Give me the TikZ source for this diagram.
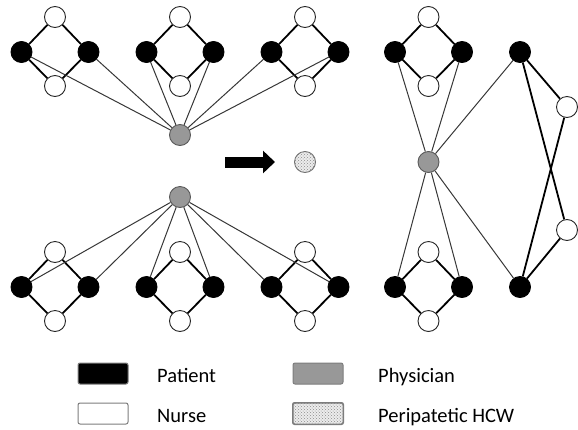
\documentclass[tikz,border=0pt]{standalone}
\usepackage{fontspec}
\setmainfont{Carlito}
\usetikzlibrary{arrows.meta,patterns,backgrounds}
\definecolor{physgray}{RGB}{152,152,152}
\definecolor{edgegray}{RGB}{55,55,55}
\definecolor{boxgray}{RGB}{125,125,125}
\begin{document}
\begin{tikzpicture}[x=1pt,y=-1pt,
  person/.style={circle,minimum size=21pt,inner sep=0pt,line width=0.9pt},
  patient/.style={person,draw=black,fill=black},
  nurse/.style={person,draw=black!85,fill=white},
  physician/.style={person,draw=black!65,fill=physgray},
  peripatetic/.style={person,draw=black!55,preaction={fill=gray!15},
    pattern=crosshatch dots,pattern color=black!45},
  care/.style={line width=1.8pt,black},
  visit/.style={line width=1pt,edgegray},
  keybox/.style={draw=boxgray,line width=1pt,rounded corners=2pt,
    minimum width=50pt,minimum height=21pt,inner sep=0pt},
  keytext/.style={anchor=base west,inner sep=0pt,
    font=\fontsize{20.5}{24}\selectfont},
  bigarrow/.style={line width=11pt,black,-{Triangle[length=12pt,width=22pt]}}]

\useasboundingbox (0,0) rectangle (578,429);

% care units: two patients, a nurse above and a nurse below
\foreach \n/\cx/\cy in {a/55/52, b/180/52, c/305/52,
                        d/55/287, e/180/287, f/305/287,
                        g/428.5/52, h/428.5/287}{
  \node[nurse]   (\n T) at (\cx,\cy-35) {};
  \node[nurse]   (\n B) at (\cx,\cy+34) {};
  \node[patient] (\n L) at (\cx-33.5,\cy) {};
  \node[patient] (\n R) at (\cx+33.5,\cy) {};
}

% shared ward on the right
\node[patient] (rT) at (520,52) {};
\node[patient] (rB) at (520,287) {};
\node[nurse]   (n1) at (567,107) {};
\node[nurse]   (n2) at (567,230) {};

% physicians
\node[physician] (P1) at (180,135) {};
\node[physician] (P2) at (180,197) {};
\node[physician] (P3) at (428.5,162) {};

% peripatetic worker and the arrow leading to it
\node[peripatetic] (PH) at (305,162) {};
\coordinate (arrTail) at (225,162);
\coordinate (arrTip) at (275,162);
\draw[bigarrow] (arrTail) -- (arrTip);

\begin{scope}[on background layer]
  \foreach \n in {a,b,c,d,e,f,g,h}{
    \draw[care] (\n T) -- (\n L);
    \draw[care] (\n T) -- (\n R);
    \draw[care] (\n B) -- (\n L);
    \draw[care] (\n B) -- (\n R);
  }
  \draw[care] (rT) -- (n1);
  \draw[care] (rT) -- (n2);
  \draw[care] (rB) -- (n1);
  \draw[care] (rB) -- (n2);

  \foreach \n in {a,b,c}{
    \draw[visit] (P1) -- (\n L);
    \draw[visit] (P1) -- (\n R);
  }
  \foreach \n in {d,e,f}{
    \draw[visit] (P2) -- (\n L);
    \draw[visit] (P2) -- (\n R);
  }
  \foreach \n in {g,h}{
    \draw[visit] (P3) -- (\n L);
    \draw[visit] (P3) -- (\n R);
  }
  \draw[visit] (P3) -- (rT);
  \draw[visit] (P3) -- (rB);
\end{scope}

% legend
\node[keybox,fill=black]      (kPatient) at (103,373.5) {};
\node[keybox,fill=white]      (kNurse)   at (103,413.5) {};
\node[keybox,fill=physgray]   (kPhys)    at (318,373.5) {};
\node[keybox,preaction={fill=gray!15},pattern=crosshatch dots,
      pattern color=black!45] (kPeri)    at (318,413.5) {};
\draw[boxgray,line width=1pt,rounded corners=2pt]
  (kPeri.south west) rectangle (kPeri.north east);

\node[keytext] (tPatient) at (157,382) {Patient};
\node[keytext] (tNurse)   at (157,422) {Nurse};
\node[keytext] (tPhys)    at (378,382) {Physician};
\node[keytext] (tPeri)    at (378,422) {Peripatetic HCW};
\end{tikzpicture}
\end{document}
